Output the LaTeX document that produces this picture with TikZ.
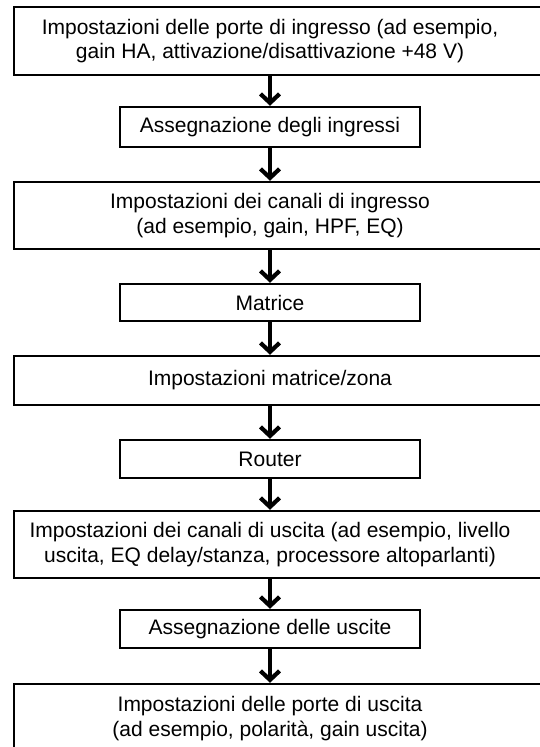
\documentclass[tikz,border=0pt]{standalone}
\usepackage{fontspec}
\setmainfont{Liberation Sans}
\usetikzlibrary{arrows.meta}
\begin{document}
\begin{tikzpicture}[x=1pt,y=-1pt,
  every node/.style={font=\fontsize{21pt}{24.5pt}\selectfont},
  boxline/.style={draw=black, line width=2.4pt, inner sep=0pt},
  wide/.style={boxline, minimum width=531pt},
  narrow/.style={boxline, minimum width=300pt},
  txt/.style={align=center, xshift=-9.5pt},
  arr/.style={draw=black, line width=4.2pt, -{Straight Barb[length=9pt,width=19pt]}}]
\useasboundingbox (0,0) rectangle (540,747);
\fill[white] (0,0) rectangle (540,747);

\node[wide, minimum height=68pt, label={[txt]center:Impostazioni delle porte di ingresso (ad esempio,\\gain HA, attivazione/disattivazione +48 V)}] (b1) at (279.5,41) {};
\node[narrow, minimum height=40pt] (b2) at (270,127) {Assegnazione degli ingressi};
\node[wide, minimum height=67pt, label={[txt]center:Impostazioni dei canali di ingresso\\(ad esempio, gain, HPF, EQ)}] (b3) at (279.5,215.5) {};
\node[narrow, minimum height=37pt] (b4) at (270,302.5) {Matrice};
\node[wide, minimum height=49pt, label={[txt]center:Impostazioni matrice/zona}] (b5) at (279.5,380.5) {};
\node[narrow, minimum height=38pt] (b6) at (270,459) {Router};
\node[wide, minimum height=67pt, label={[txt]center:Impostazioni dei canali di uscita (ad esempio, livello\\uscita, EQ delay/stanza, processore altoparlanti)}] (b7) at (279.5,544.5) {};
\node[narrow, minimum height=38pt] (b8) at (270,629) {Assegnazione delle uscite};
\node[wide, minimum height=94pt, label={[txt, yshift=12.5pt]center:Impostazioni delle porte di uscita\\(ad esempio, polarità, gain uscita)}] (b9) at (279.5,731) {};

\draw[arr] (b1.south -| b2.north) -- (b2.north);
\draw[arr] (b2.south) -- (b3.north -| b2.south);
\draw[arr] (b3.south -| b4.north) -- (b4.north);
\draw[arr] (b4.south) -- (b5.north -| b4.south);
\draw[arr] (b5.south -| b6.north) -- (b6.north);
\draw[arr] (b6.south) -- (b7.north -| b6.south);
\draw[arr] (b7.south -| b8.north) -- (b8.north);
\draw[arr] (b8.south) -- (b9.north -| b8.south);
\end{tikzpicture}
\end{document}
